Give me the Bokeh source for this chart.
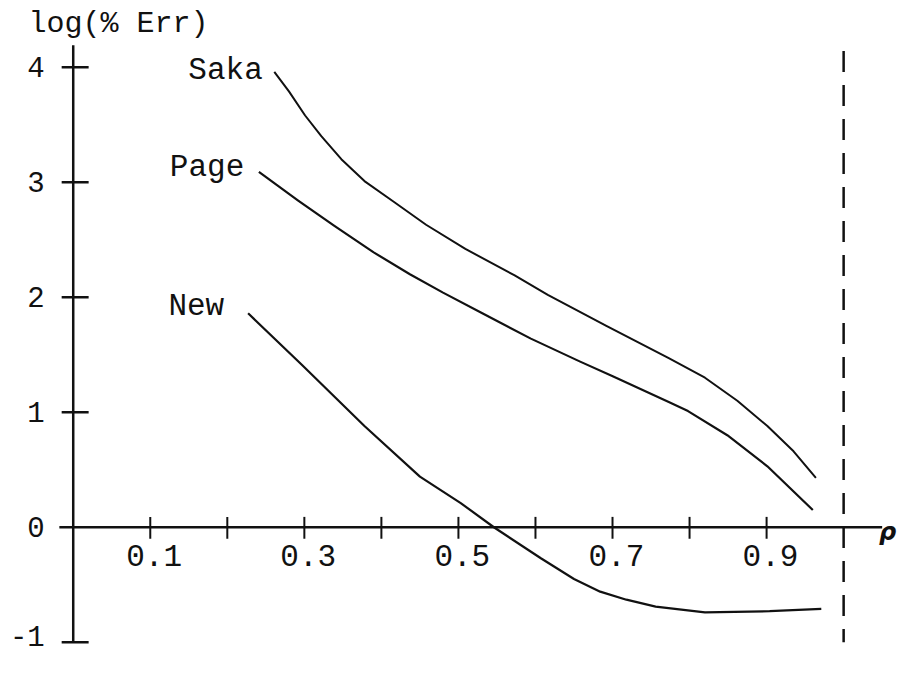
from bokeh.plotting import figure
from bokeh.models import Range1d
from bokeh.core.properties import value
from bokeh.embed import file_html
from bokeh.resources import INLINE

# ---- data ----
saka_x = [0.261, 0.280, 0.301, 0.322, 0.348, 0.378, 0.416, 0.458, 0.509, 0.573, 0.616, 0.692,
          0.773, 0.820, 0.862, 0.901, 0.935, 0.964]
saka_y = [3.96, 3.79, 3.58, 3.40, 3.20, 3.01, 2.83, 2.63, 2.42, 2.19, 2.02, 1.75,
          1.47, 1.30, 1.10, 0.88, 0.66, 0.43]

page_x = [0.241, 0.292, 0.339, 0.390, 0.437, 0.480, 0.531, 0.594, 0.658, 0.701, 0.773, 0.798,
          0.849, 0.901, 0.960]
page_y = [3.09, 2.84, 2.62, 2.39, 2.20, 2.04, 1.86, 1.64, 1.44, 1.31, 1.09, 1.01,
          0.80, 0.53, 0.15]

new_x = [0.227, 0.297, 0.378, 0.450, 0.503, 0.546, 0.607, 0.650, 0.684, 0.718, 0.756, 0.820,
         0.904, 0.971]
new_y = [1.86, 1.41, 0.88, 0.44, 0.21, 0.00, -0.27, -0.45, -0.56, -0.63, -0.69, -0.74,
         -0.73, -0.71]

x_ticks = [0.1, 0.2, 0.3, 0.4, 0.5, 0.6, 0.7, 0.8, 0.9]
x_tick_labels = ["0.1", "0.3", "0.5", "0.7", "0.9"]
x_label_pos = [0.1, 0.3, 0.5, 0.7, 0.9]
y_ticks = [-1, 1, 2, 3, 4]
y_tick_labels = ["4", "3", "2", "1", "0", "-1"]
y_label_pos = [4, 3, 2, 1, 0, -0.95]
series_names = ["Saka", "Page", "New"]
series_label_x = [0.246, 0.222, 0.196]
series_label_y = [3.97, 3.13, 1.92]
limit_x = 1.0

FONT = value("Liberation Mono")
INK = "#111111"

p = figure(width=906, height=659, output_backend="svg", toolbar_location=None,
           x_axis_type=None, y_axis_type=None, min_border=0,
           x_range=Range1d(-0.0944, 1.0816), y_range=Range1d(-1.15, 4.58))
p.outline_line_color = None
p.xgrid.visible = False
p.ygrid.visible = False

# axes (drawn crossing at the origin, as in the original)
p.segment(x0=[0, -0.018], y0=[-1.0, 0], x1=[0, 1.05], y1=[4.19, 0], line_color=INK, line_width=2.5)
# x ticks
p.segment(x0=x_ticks, y0=[0.09] * len(x_ticks), x1=x_ticks, y1=[-0.10] * len(x_ticks),
          line_color=INK, line_width=2)
# y ticks
p.segment(x0=[-0.015] * len(y_ticks), y0=y_ticks, x1=[0.02] * len(y_ticks), y1=y_ticks,
          line_color=INK, line_width=2.5)
# dashed limit line
p.segment(x0=[limit_x], y0=[4.14], x1=[limit_x], y1=[-1.0], line_color=INK, line_width=2.5,
          line_dash="21 13")

# curves
p.line(saka_x, saka_y, line_color=INK, line_width=2, line_join="round")
p.line(page_x, page_y, line_color=INK, line_width=2.2, line_join="round")
p.line(new_x, new_y, line_color=INK, line_width=2.2, line_join="round")

# tick labels
p.text(x=[v + 0.005 for v in x_label_pos], y=[-0.25] * len(x_label_pos), text=x_tick_labels,
       text_font=FONT, text_font_size="31px", text_align="center", text_baseline="middle",
       text_color=INK)
p.text(x=[-0.037] * len(y_label_pos), y=y_label_pos, text=y_tick_labels,
       text_font=FONT, text_font_size="29px", text_align="right", text_baseline="middle",
       text_color=INK)

# series labels
p.text(x=series_label_x, y=series_label_y, text=series_names,
       text_font=FONT, text_font_size="31px", text_align="right", text_baseline="middle",
       text_color=INK)

# axis titles
p.text(x=[-0.058], y=[4.38], text=["log(% Err)"], text_font=FONT, text_font_size="30px",
       text_align="left", text_baseline="middle", text_color=INK)
p.text(x=[1.046], y=[-0.04], text=["ρ"], text_font=value("DejaVu Sans"), text_font_size="24px",
       text_font_style="bold italic", text_align="left", text_baseline="middle", text_color=INK)

open("out.html", "w").write(file_html(p, INLINE))
